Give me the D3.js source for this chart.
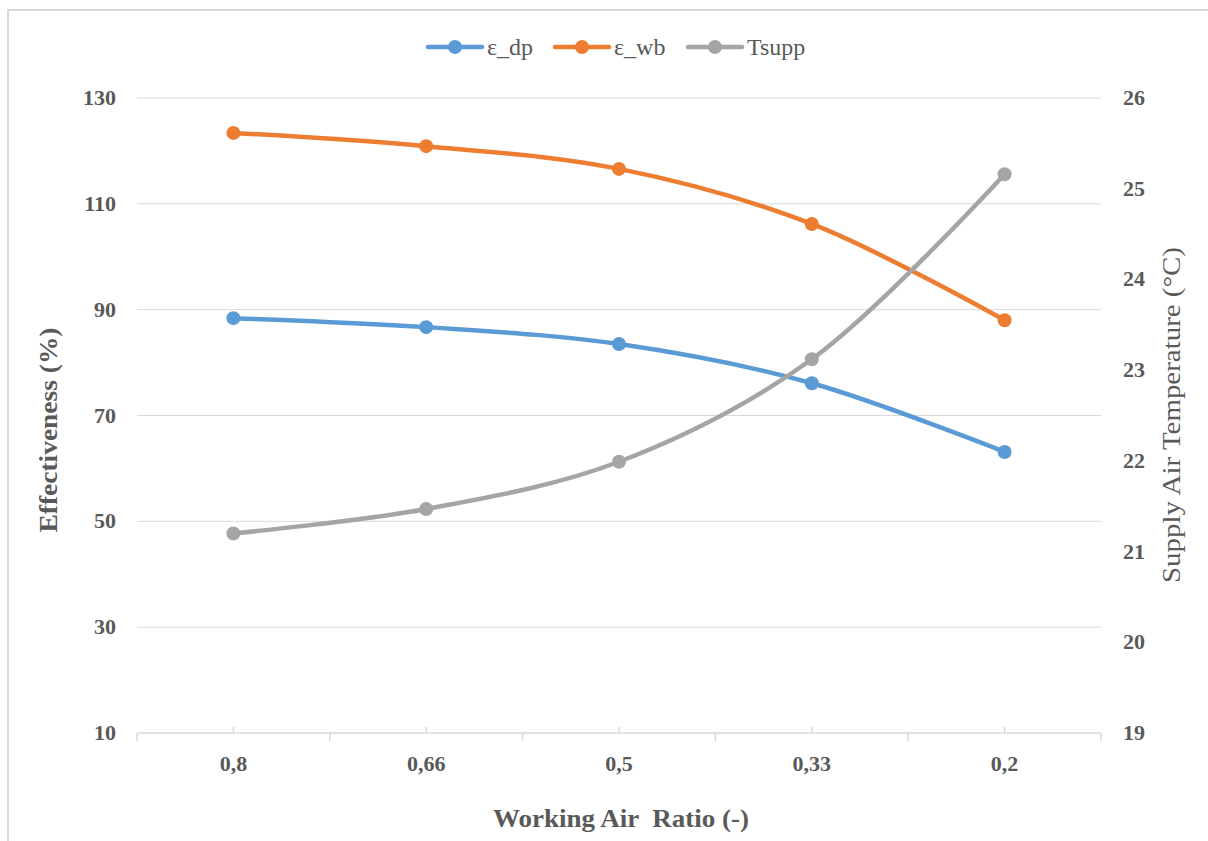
<!DOCTYPE html>
<html>
<head>
<meta charset="utf-8">
<script src="https://cdn.jsdelivr.net/npm/d3@7"></script>
<style>
  body { margin: 0; background: #fff; }
</style>
</head>
<body>
<svg id="main-vis" width="1208" height="841"></svg>
<script>
var categories = ["0,8", "0,66", "0,5", "0,33", "0,2"];
var eps_dp = [88.4, 86.7, 83.5, 76.1, 63.1];
var eps_wb = [123.4, 120.9, 116.6, 106.2, 88.0];
var tsupp = [21.2, 21.47, 21.99, 23.12, 25.16];
var leftTicks = [10, 30, 50, 70, 90, 110, 130];
var rightTicks = [19, 20, 21, 22, 23, 24, 25, 26];

var margin = ({top: 98, right: 107, bottom: 108, left: 137});
var width = 1208;
var height = 841;
var textColor = '#595959';
var serif = '"Liberation Serif"';

var svg = d3.select('#main-vis');

// chart border
svg.append('rect')
  .attr('x', 8).attr('y', 10)
  .attr('width', width + 20).attr('height', height + 20)
  .attr('fill', 'none')
  .attr('stroke', '#d9d9d9')
  .attr('stroke-width', 2);

var x = d3.scaleBand()
  .domain(categories)
  .range([margin.left, width - margin.right]);

var y = d3.scaleLinear()
  .domain([10, 130])
  .range([height - margin.bottom, margin.top]);

var y2 = d3.scaleLinear()
  .domain([19, 26])
  .range([height - margin.bottom, margin.top]);

var cx = d => x(d) + x.bandwidth() / 2;

// gridlines
svg.selectAll('.grid')
  .data(leftTicks.slice(1))
  .enter()
  .append('line')
    .attr('x1', margin.left)
    .attr('x2', width - margin.right)
    .attr('y1', d => y(d))
    .attr('y2', d => y(d))
    .style('stroke', '#d9d9d9')
    .style('stroke-width', 1);

// x axis
var xAxis = svg.append('g').attr('transform', `translate(0,${y(10)})`);
xAxis.append('line')
  .attr('x1', margin.left).attr('x2', width - margin.right)
  .style('stroke', '#d9d9d9').style('stroke-width', 1.5);
var bounds = categories.map(c => x(c)).concat([width - margin.right]);
xAxis.selectAll('.major')
  .data(bounds)
  .enter()
  .append('line')
    .attr('x1', d => d).attr('x2', d => d)
    .attr('y1', 0).attr('y2', 8)
    .style('stroke', '#d9d9d9').style('stroke-width', 1.5);
xAxis.selectAll('.minor')
  .data(categories)
  .enter()
  .append('line')
    .attr('x1', d => cx(d)).attr('x2', d => cx(d))
    .attr('y1', 0).attr('y2', -6)
    .style('stroke', '#d9d9d9').style('stroke-width', 1.5);
xAxis.selectAll('.xlab')
  .data(categories)
  .enter()
  .append('text')
    .attr('x', d => cx(d))
    .attr('y', 38)
    .attr('text-anchor', 'middle')
    .attr('fill', textColor)
    .style('font-family', serif)
    .style('font-size', '22px')
    .style('font-weight', 'bold')
    .text(d => d);

// left ticks
svg.selectAll('.ylab')
  .data(leftTicks)
  .enter()
  .append('text')
    .attr('x', 116)
    .attr('y', d => y(d) + 7)
    .attr('text-anchor', 'end')
    .attr('fill', textColor)
    .style('font-family', serif)
    .style('font-size', '22px')
    .style('font-weight', 'bold')
    .text(d => d);

// right ticks
svg.selectAll('.y2lab')
  .data(rightTicks)
  .enter()
  .append('text')
    .attr('x', 1123)
    .attr('y', d => y2(d) + 7)
    .attr('text-anchor', 'start')
    .attr('fill', textColor)
    .style('font-family', serif)
    .style('font-size', '22px')
    .style('font-weight', 'bold')
    .text(d => d);

// axis titles
svg.append('text')
  .attr('x', 621).attr('y', 827)
  .attr('text-anchor', 'middle')
  .attr('fill', textColor)
  .attr('textLength', 256)
  .attr('lengthAdjust', 'spacingAndGlyphs')
  .style('font-family', serif)
  .style('font-size', '26px')
  .style('font-weight', 'bold')
  .style('white-space', 'pre')
  .text('Working Air  Ratio (-)');

svg.append('text')
  .attr('transform', 'translate(57,430) rotate(-90)')
  .attr('text-anchor', 'middle')
  .attr('fill', textColor)
  .attr('textLength', 205)
  .attr('lengthAdjust', 'spacingAndGlyphs')
  .style('font-family', serif)
  .style('font-size', '26px')
  .style('font-weight', 'bold')
  .text('Effectiveness (%)');

svg.append('text')
  .attr('transform', 'translate(1180,415) rotate(-90)')
  .attr('text-anchor', 'middle')
  .attr('fill', textColor)
  .attr('textLength', 336)
  .attr('lengthAdjust', 'spacingAndGlyphs')
  .style('font-family', serif)
  .style('font-size', '26px')
  .text('Supply Air Temperature (°C)');

// series
var series = [
  {name: 'ε_dp', values: eps_dp, color: '#5B9BD5', scale: y},
  {name: 'ε_wb', values: eps_wb, color: '#ED7D31', scale: y},
  {name: 'Tsupp', values: tsupp, color: '#A5A5A5', scale: y2}
];

series.forEach(function(s){
  var line = d3.line()
    .x((d, i) => cx(categories[i]))
    .y(d => s.scale(d))
    .curve(d3.curveCatmullRom);
  svg.append('path')
    .datum(s.values)
    .attr('fill', 'none')
    .attr('stroke', s.color)
    .attr('stroke-width', 4.5)
    .attr('stroke-linecap', 'round')
    .attr('d', line);
  svg.selectAll(null)
    .data(s.values)
    .enter()
    .append('circle')
      .attr('cx', (d, i) => cx(categories[i]))
      .attr('cy', d => s.scale(d))
      .attr('r', 7)
      .attr('fill', s.color);
});

// legend
var legendX = [428, 555, 688];
var legend = svg.selectAll('.legend')
  .data(series)
  .enter()
  .append('g')
    .attr('transform', (d, i) => `translate(${legendX[i]},47)`);
legend.append('line')
  .attr('x1', 0).attr('x2', 54)
  .attr('stroke', d => d.color)
  .attr('stroke-width', 4.5)
  .attr('stroke-linecap', 'round');
legend.append('circle')
  .attr('cx', 27).attr('r', 7)
  .attr('fill', d => d.color);
legend.append('text')
  .attr('x', 59).attr('y', 8)
  .attr('fill', textColor)
  .style('font-family', serif)
  .style('font-size', '24px')
  .text(d => d.name);
</script>
</body>
</html>
